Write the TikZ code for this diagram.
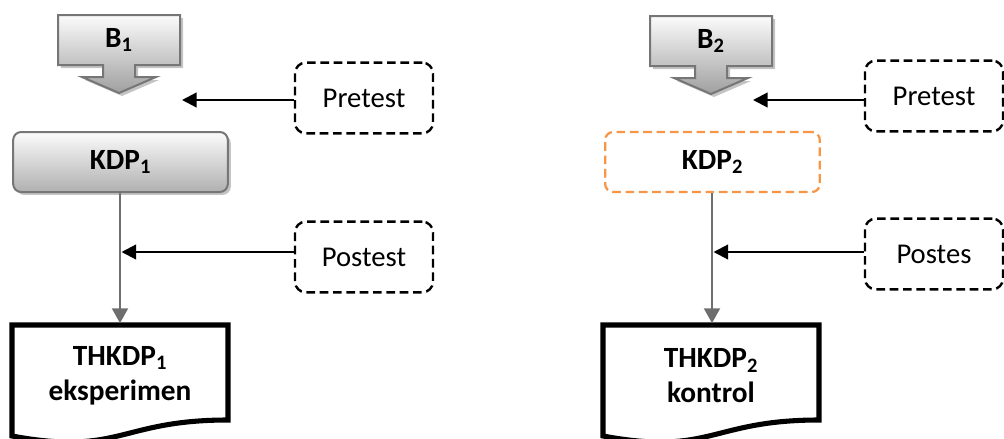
\documentclass[tikz,border=0pt]{standalone}
\usepackage{fontspec}
\setmainfont{Carlito}
\usetikzlibrary{arrows.meta,shadows,calc}

\definecolor{edgegray}{HTML}{767676}
\definecolor{linegray}{HTML}{6E6E6E}
\definecolor{shadowgray}{HTML}{C4C4C4}
\definecolor{kdporange}{HTML}{F79646}

\tikzset{
  lbl/.style={font=\fontsize{21.5}{25}\selectfont},
  blbl/.style={font=\bfseries\fontsize{22}{26.3}\selectfont, align=center},
  testbox/.style={draw=black, line width=1.8pt, dash pattern=on 6.5pt off 3.5pt,
    rounded corners=8pt, fill=white, minimum width=103.5pt, minimum height=53pt, lbl},
  greybox/.style={draw=edgegray, line width=1.5pt, rounded corners=6pt,
    top color=white!97!gray, bottom color=gray!62, minimum width=161pt, minimum height=45pt,
    blbl, drop shadow={shadow xshift=2.2pt, shadow yshift=-2.2pt, fill=shadowgray, opacity=1}},
  orangebox/.style={draw=kdporange, line width=1.7pt, dash pattern=on 6.5pt off 3.5pt,
    rounded corners=6pt, fill=white, minimum width=161pt, minimum height=45pt, blbl},
  docbox/.style={minimum width=162pt, minimum height=88pt, inner sep=0pt},
  pointer/.style={line width=1.6pt, -{Triangle[length=11pt,width=11pt]}},
  flow/.style={draw=linegray, line width=1.4pt, -{Triangle[length=11pt,width=12pt,fill=linegray]}},
  barrow/.pic={
    \fill[shadowgray] ([shift={(3,3)}]-61,-25) -- ++(122,0) -- ++(0,50) -- ++(-45,0) -- ++(0,12)
      -- ++(21,0) -- ++(-37,16) -- ++(-37,-16) -- ++(21,0) -- ++(0,-12) -- ++(-45,0) -- cycle;
    \draw[edgegray, line width=1.5pt, top color=white!97!gray, bottom color=gray!75]
      (-61,-25) -- ++(122,0) -- ++(0,50) -- ++(-45,0) -- ++(0,12)
      -- ++(21,0) -- ++(-37,16) -- ++(-37,-16) -- ++(21,0) -- ++(0,-12) -- ++(-45,0) -- cycle;
  },
  document/.pic={
    \draw[black, line width=3.8pt, fill=white, line join=miter]
      (-108,0) -- (108,0) -- (108,95)
      .. controls (0,95) and (0,131) .. (-108,111) -- cycle;
  }
}

\begin{document}
\begin{tikzpicture}[x=0.75pt,y=-0.75pt]
\useasboundingbox (0,0) rectangle (1004,439);

% ---------- experimental group ----------
\pic at (119,40) {barrow};
\node[blbl] (b1) at (119,40) {B\textsubscript{1}};
\coordinate (in1) at (182,100);

\node[testbox] (pre1) at (364,98) {Pretest};
\draw[pointer] (pre1.west |- in1) -- (in1);

\node[greybox] (kdp1) at (120.5,162) {KDP\textsubscript{1}};

\pic at (120,325) {document};
\node[docbox] (th1) at (120,384) {};
\node[blbl] at (120,376) {THKDP\textsubscript{1}\\eksperimen};

\node[testbox] (post1) at (364,257) {Postest};
\draw[flow] (kdp1.south -| 120,0) -- ([yshift=1.5pt]th1.north);
\draw[pointer] (post1.west |- 0,252) -- (121.5,252);

% ---------- control group ----------
\pic at (711,41) {barrow};
\node[blbl] (b2) at (711,41) {B\textsubscript{2}};
\coordinate (in2) at (753,100);

\node[testbox] (pre2) at (934,96) {Pretest};
\draw[pointer] (pre2.west |- in2) -- (in2);

\node[orangebox] (kdp2) at (712.5,162) {KDP\textsubscript{2}};

\pic at (711,325) {document};
\node[docbox] (th2) at (711,384) {};
\node[blbl] at (711,376) {THKDP\textsubscript{2}\\kontrol};

\node[testbox] (post2) at (934,254) {Postes};
\draw[flow] (kdp2.south -| 712,0) -- ([yshift=1.5pt]th2.north -| 712,0);
\draw[pointer] (post2.west |- 0,252) -- (713.5,252);
\end{tikzpicture}
\end{document}
